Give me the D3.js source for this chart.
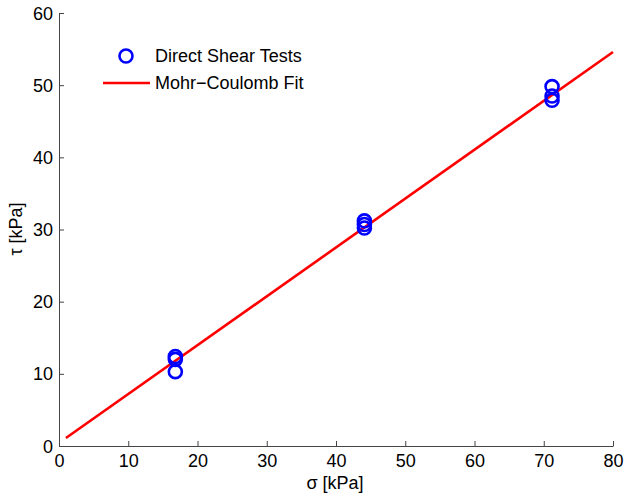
<!DOCTYPE html>
<html><head><meta charset="utf-8">
<script src="https://cdn.jsdelivr.net/npm/d3@7"></script>
<style>body{margin:0;background:#fff}svg{display:block}text{font-family:"Liberation Sans",Arial,sans-serif;fill:#000}</style>
</head><body>
<script>
const sigma = [16.8, 16.8, 16.8, 44.1, 44.1, 44.1, 71.2, 71.2, 71.2];
const tau = [12.4, 12.0, 10.3, 31.2, 30.7, 30.2, 49.8, 48.5, 47.9];
const fitSigma = [1, 80];
const fitIntercept = 0.43;
const fitSlope = 0.677;
const xTicks = [0, 10, 20, 30, 40, 50, 60, 70, 80];
const yTicks = [0, 10, 20, 30, 40, 50, 60];
const legendLabels = ["Direct Shear Tests", "Mohr\u2212Coulomb Fit"];

const W = 624, H = 496, FS = 18;
const svg = d3.select("body").append("svg").attr("width", W).attr("height", H);
const x = d3.scaleLinear().domain([0, 80]).range([59, 613]);
const y = d3.scaleLinear().domain([0, 60]).range([446, 13]);

const xAxis = svg.append("g").attr("transform", "translate(0,446)")
  .call(d3.axisBottom(x).tickValues(xTicks).tickSizeInner(-5).tickSizeOuter(0));
const yAxis = svg.append("g").attr("transform", "translate(59,0)")
  .call(d3.axisLeft(y).tickValues(yTicks).tickSizeInner(-5).tickSizeOuter(0));
[xAxis, yAxis].forEach(a => {
  a.selectAll("path,line").attr("stroke", "#444").attr("stroke-width", 1);
  a.selectAll("text").attr("font-size", FS).attr("font-family", '"Liberation Sans",Arial,sans-serif').attr("fill", "#000");
});
xAxis.selectAll("text").attr("y", 21).attr("dy", 0);
yAxis.selectAll("text").attr("x", -6).attr("dy", "0.34em");

// fit line
const line = d3.line().x(d => x(d)).y(d => y(fitIntercept + fitSlope * d));
svg.append("path").datum(fitSigma).attr("d", line)
  .attr("fill", "none").attr("stroke", "#ff0000").attr("stroke-width", 2.6);

// points
svg.append("g").selectAll("circle").data(sigma).join("circle")
  .attr("cx", d => x(d)).attr("cy", (d, i) => y(tau[i])).attr("r", 6.5)
  .attr("fill", "none").attr("stroke", "#0000ff").attr("stroke-width", 2.6);

// legend
const lg = svg.append("g");
lg.append("circle").attr("cx", 126).attr("cy", 56).attr("r", 6.5)
  .attr("fill", "none").attr("stroke", "#0000ff").attr("stroke-width", 2.6);
lg.append("line").attr("x1", 103).attr("x2", 150).attr("y1", 83).attr("y2", 83)
  .attr("stroke", "#ff0000").attr("stroke-width", 2.6);
lg.selectAll("text").data(legendLabels).join("text")
  .attr("x", 155).attr("y", (d, i) => 56 + i * 27).attr("dy", "0.35em")
  .attr("font-size", FS).text(d => d);

// axis labels
svg.append("text").attr("x", 335).attr("y", 489).attr("text-anchor", "middle")
  .attr("font-size", FS).text("\u03c3 [kPa]");
svg.append("text").attr("transform", "translate(22,229) rotate(-90)").attr("text-anchor", "middle")
  .attr("font-size", FS).text("\u03c4 [kPa]");
</script>
</body></html>
